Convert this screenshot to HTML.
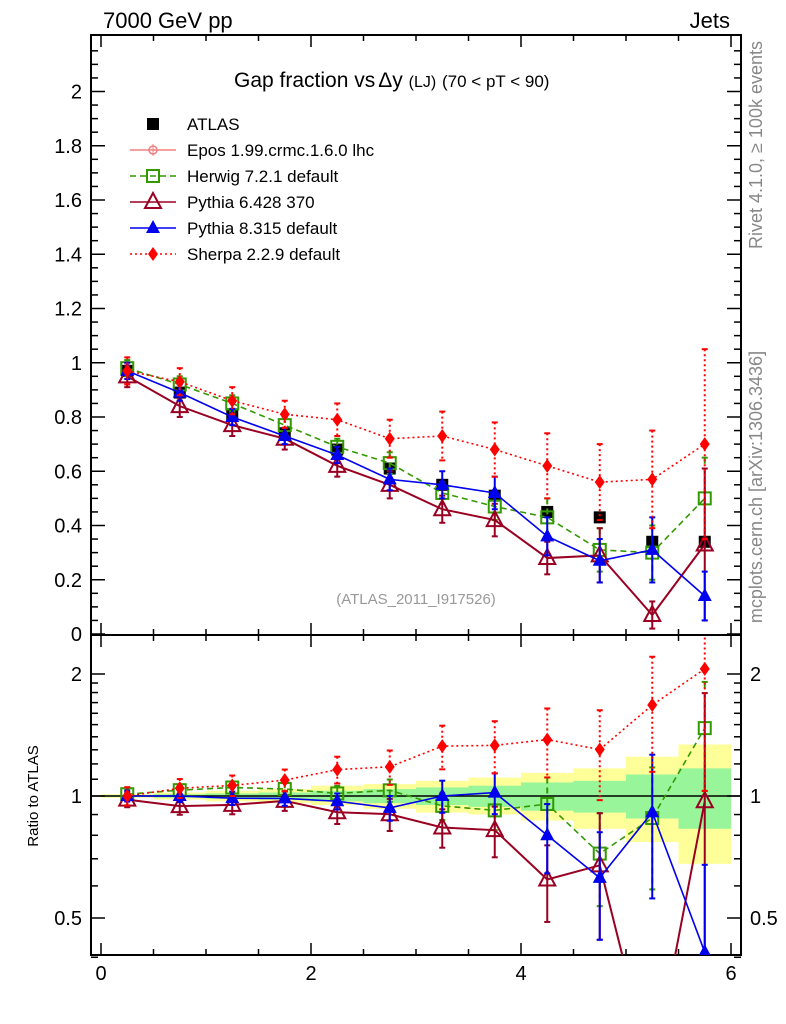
<!DOCTYPE html>
<html><head><meta charset="utf-8"><style>
body{margin:0;background:#fff;overflow:hidden}
svg{display:block;font-family:"Liberation Sans",sans-serif}
</style></head><body>
<svg id="c" width="786" height="1024" viewBox="0 0 786 1024"></svg>
<script>
const xs=[0.25,0.75,1.25,1.75,2.25,2.75,3.25,3.75,4.25,4.75,5.25,5.75];
const atlas=[0.97,0.89,0.81,0.74,0.68,0.61,0.55,0.51,0.45,0.43,0.34,0.34];
const herwig=[0.98,0.92,0.85,0.77,0.69,0.63,0.52,0.47,0.43,0.31,0.30,0.50];
const pythia6=[0.95,0.84,0.77,0.72,0.62,0.55,0.46,0.42,0.28,0.29,0.07,0.33];
const pythia8=[0.97,0.89,0.80,0.73,0.66,0.57,0.55,0.52,0.36,0.27,0.31,0.14];
const sherpa=[0.97,0.93,0.86,0.81,0.79,0.72,0.73,0.68,0.62,0.56,0.57,0.70];
const herwigErr=[0.03,0.03,0.03,0.03,0.03,0.04,0.04,0.05,0.07,0.08,0.1,0.15];
const pythia6Err=[0.04,0.04,0.04,0.04,0.04,0.05,0.05,0.06,0.06,0.1,0.05,0.28];
const pythia8Err=[0.03,0.03,0.03,0.03,0.03,0.04,0.05,0.06,0.07,0.08,0.12,0.09];
const sherpaErr=[0.05,0.05,0.05,0.05,0.06,0.07,0.09,0.1,0.12,0.14,0.18,0.35];
const yellowUp=[1.01,1.02,1.03,1.04,1.06,1.07,1.09,1.11,1.14,1.17,1.25,1.34];
const yellowDn=[0.99,0.98,0.97,0.96,0.95,0.93,0.91,0.90,0.87,0.83,0.77,0.68];
const greenUp=[1.005,1.01,1.015,1.02,1.03,1.04,1.05,1.06,1.08,1.09,1.13,1.17];
const greenDn=[0.995,0.99,0.985,0.98,0.97,0.96,0.95,0.94,0.92,0.91,0.88,0.83];
const mainYTicks=[0,0.2,0.4,0.6,0.8,1,1.2,1.4,1.6,1.8,2];
const ratioYTicks=[0.5,1,2];
const xTicks=[0,2,4,6];

const NS="http://www.w3.org/2000/svg", svg=document.getElementById('c');
const L=91,R=741,T=35,M=635,B=955;
const X=v=>101+v*105;
const Y=v=>634-v*271.25;
const RY=r=>796-Math.log2(r)*122;
function el(tag,a,p){const e=document.createElementNS(NS,tag);for(const k in a)e.setAttribute(k,a[k]);(p||svg).appendChild(e);return e;}
function txt(s,a,p){const e=el('text',a,p);e.textContent=s;return e;}

const clipR=el('clipPath',{id:'cr'});el('rect',{x:L,y:M,width:R-L,height:B-M},clipR);
const clipM=el('clipPath',{id:'cm'});el('rect',{x:L,y:T,width:R-L,height:M-T},clipM);
const gb=el('g',{'clip-path':'url(#cr)'});
xs.forEach((x,i)=>{
  const y=el('rect',{x:X(x-0.25),width:X(0.5)-X(0),y:RY(yellowUp[i]),height:RY(yellowDn[i])-RY(yellowUp[i]),fill:'#ffff99'},gb);
  
});
xs.forEach((x,i)=>{
  const g=el('rect',{x:X(x-0.25),width:X(0.5)-X(0),y:RY(greenUp[i]),height:RY(greenDn[i])-RY(greenUp[i]),fill:'#99f599'},gb);
  
});
el('line',{x1:L,x2:R,y1:RY(1),y2:RY(1),stroke:'#000','stroke-width':1.5});

el('rect',{x:L,y:T,width:R-L,height:M-T,fill:'none',stroke:'#000','stroke-width':2});
el('rect',{x:L,y:M,width:R-L,height:B-M,fill:'none',stroke:'#000','stroke-width':2});

for(let v=0;v<=6.01;v+=0.5){
  const big=Math.abs(v-Math.round(v/2)*2)<0.01, len=big?12:6;
  [[M,-1],[T,1],[B,-1],[M,1]].forEach(([y0,d])=>el('line',{x1:X(v),x2:X(v),y1:y0,y2:y0+d*len,stroke:'#000','stroke-width':1.5}));
}
xTicks.forEach(v=>{const t=txt(v,{x:X(v),y:980,'font-size':20,'text-anchor':'middle'});});
for(let v=0;v<=2.16;v+=0.05){
  const big=Math.abs(v/0.2-Math.round(v/0.2))<0.01,len=big?14:7;
  el('line',{x1:L,x2:L+len,y1:Y(v),y2:Y(v),stroke:'#000','stroke-width':1.5});
  el('line',{x1:R,x2:R-len,y1:Y(v),y2:Y(v),stroke:'#000','stroke-width':1.5});
}
mainYTicks.forEach(v=>{const t=txt(String(Math.round(v*10)/10),{x:82,y:Y(v)+7,'font-size':20,'text-anchor':'end'});});
[0.4,0.5,0.6,0.7,0.8,0.9,1,1.1,1.2,1.3,1.4,1.5,1.6,1.7,1.8,1.9,2].forEach(v=>{
  const big=[0.5,1,2].includes(v),len=big?14:7;
  el('line',{x1:L,x2:L+len,y1:RY(v),y2:RY(v),stroke:'#000','stroke-width':1.5});
  el('line',{x1:R,x2:R-len,y1:RY(v),y2:RY(v),stroke:'#000','stroke-width':1.5});
});
ratioYTicks.forEach(v=>{
  const a=txt(v,{x:82,y:RY(v)+7,'font-size':20,'text-anchor':'end'});
  const b=txt(v,{x:750,y:RY(v)+7,'font-size':20});
});

const series=[
 {n:'herwig',v:herwig,e:herwigErr,c:'#339900',dash:'6,4',m:'sq'},
 {n:'pythia6',v:pythia6,e:pythia6Err,c:'#990022',dash:'',m:'otri'},
 {n:'pythia8',v:pythia8,e:pythia8Err,c:'#0000ee',dash:'',m:'tri'},
 {n:'sherpa',v:sherpa,e:sherpaErr,c:'#ff0000',dash:'2,3',m:'dia'}];
function marker(g,m,x,y,c){
  if(m==='sq')el('rect',{x:x-6,y:y-6,width:12,height:12,fill:'none',stroke:c,'stroke-width':2},g);
  if(m==='fsq')el('rect',{x:x-6,y:y-6,width:12,height:12,fill:c},g);
  if(m==='otri')el('polygon',{points:`${x},${y-9} ${x-8},${y+6} ${x+8},${y+6}`,fill:'none',stroke:c,'stroke-width':2},g);
  if(m==='tri')el('polygon',{points:`${x},${y-8} ${x-7},${y+5} ${x+7},${y+5}`,fill:c},g);
  if(m==='dia')el('polygon',{points:`${x},${y-7} ${x+5},${y} ${x},${y+7} ${x-5},${y}`,fill:c},g);
}
function drawSeries(vals,errs,s,yf,clip,suffix){
  const g=el('g',{'clip-path':clip});
  
  xs.forEach((x,i)=>{if(errs){const lo=Math.max(vals[i]-errs[i],0.01),hi=vals[i]+errs[i];
    el('line',{x1:X(x),x2:X(x),y1:yf(hi),y2:yf(lo),stroke:s.c,'stroke-width':2,'stroke-dasharray':s.dash},g);
    el('line',{x1:X(x)-3,x2:X(x)+3,y1:yf(hi),y2:yf(hi),stroke:s.c,'stroke-width':2},g);
    el('line',{x1:X(x)-3,x2:X(x)+3,y1:yf(lo),y2:yf(lo),stroke:s.c,'stroke-width':2},g);}});
  if(s.n!=='atlas')el('polyline',{points:xs.map((x,i)=>X(x)+','+yf(Math.max(vals[i],0.01))).join(' '),fill:'none',stroke:s.c,'stroke-width':s.n==='pythia6'?2:1.6,'stroke-dasharray':s.dash},g);
  xs.forEach((x,i)=>marker(g,s.m,X(x),yf(Math.max(vals[i],0.01)),s.c));
}
drawSeries(atlas,null,{n:'atlas',c:'#000',m:'fsq'},Y,'url(#cm)','');
series.forEach(s=>{
  drawSeries(s.v,s.e,s,Y,'url(#cm)','');
  const rv=s.v.map((v,i)=>v/atlas[i]), re=s.e.map((e,i)=>e/atlas[i]);
  drawSeries(rv,re,s,RY,'url(#cr)','-ratio');
});

const lg=el('g',{});
const leg=[['ATLAS','#000','','fsq'],['Epos 1.99.crmc.1.6.0 lhc','#f08080','','epos'],['Herwig 7.2.1 default','#339900','6,4','sq'],['Pythia 6.428 370','#990022','','otri'],['Pythia 8.315 default','#0000ee','','tri'],['Sherpa 2.2.9 default','#ff0000','2,3','dia']];
leg.forEach((l,i)=>{const y=124+i*26;const g=el('g',{},lg);
  if(l[0]!=='ATLAS')el('line',{x1:130,x2:176,y1:y,y2:y,stroke:l[1],'stroke-width':1.6,'stroke-dasharray':l[2]},g);
  if(l[3]==='epos'){el('circle',{cx:153,cy:y,r:4,fill:'none',stroke:l[1],'stroke-width':1.5},g);el('line',{x1:153,x2:153,y1:y-6,y2:y+6,stroke:l[1]},g);}
  else marker(g,l[3],153,y,l[1]);
  txt(l[0],{x:187,y:y+6,'font-size':17},g);});

const tt=[['7000 GeV pp',{x:103,y:28,'font-size':22},'energy-label'],['Jets',{x:730,y:28,'font-size':22,'text-anchor':'end'},'process-label'],
['(ATLAS_2011_I917526)',{x:416,y:604,'font-size':15,fill:'#999','text-anchor':'middle'},'analysis-id']];
tt.forEach(a=>{const t=txt(a[0],a[1]);});
const ti=el('text',{x:234,y:87,'font-size':21});
ti.innerHTML='Gap fraction vs<tspan dx="3">Δy</tspan> <tspan font-size="16">(LJ)</tspan> <tspan font-size="17">(70 &lt; pT &lt;  90)</tspan>';
const yt=txt('Ratio to ATLAS',{transform:'translate(38,796) rotate(-90)','font-size':15,'text-anchor':'middle'});
const r1=txt('Rivet 4.1.0, ≥ 100k events',{transform:'translate(762,145) rotate(-90)','font-size':18,fill:'#888','text-anchor':'middle'});
const r2=txt('mcplots.cern.ch [arXiv:1306.3436]',{transform:'translate(762,487) rotate(-90)','font-size':18,fill:'#888','text-anchor':'middle'});
</script>
</body></html>
